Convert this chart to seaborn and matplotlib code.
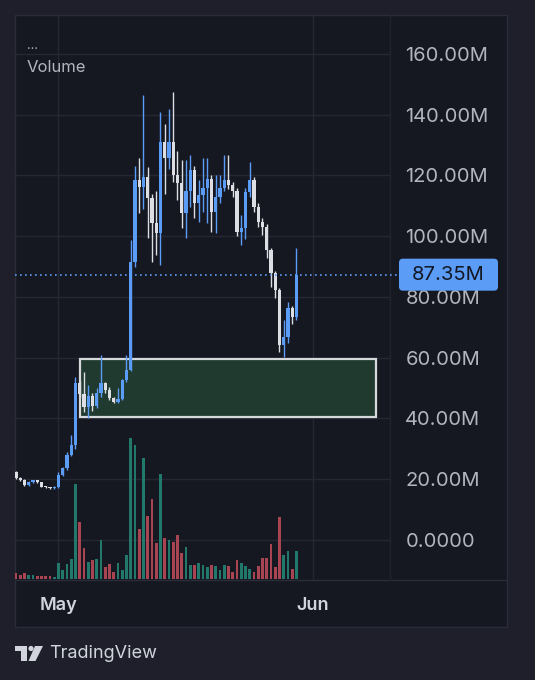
import numpy as np
import pandas as pd
import seaborn as sns
import matplotlib.pyplot as plt
from matplotlib import patches, lines, transforms

W, H = 535, 680
DPI = 100

# Candle data (12h bars), values in millions
opens = [22.4, 20.3, 19.8, 18.0, 19.2, 19.6, 19.0, 17.5, 17.3, 17.1,
         17.5, 21.4, 23.6, 28.0, 31.3, 51.6, 48.0, 43.8, 47.5, 44.0,
         48.5, 51.6, 49.5, 46.7, 45.3, 46.5, 52.6, 56.0, 91.4, 118.4,
         116.2, 119.4, 112.5, 104.3, 101.0, 131.0, 125.6, 131.0, 120.0, 117.4,
         107.6, 115.0, 121.7, 111.0, 113.5, 116.0, 119.0, 108.0, 113.0, 115.8,
         118.4, 117.0, 115.0, 101.3, 102.6, 114.5, 118.4, 109.5, 104.6, 103.0,
         95.4, 87.8, 82.2, 64.1, 66.8, 76.3, 73.4]
highs = [22.8, 20.9, 20.2, 19.5, 19.9, 19.8, 19.2, 17.9, 17.6, 17.7,
         22.5, 24.0, 29.0, 34.5, 53.5, 52.5, 55.3, 51.0, 48.5, 50.0,
         60.9, 52.0, 50.5, 47.2, 50.0, 53.0, 60.9, 98.7, 123.0, 125.6,
         146.4, 122.7, 114.0, 115.0, 140.8, 137.0, 141.8, 147.4, 128.0, 125.0,
         125.0, 126.6, 123.0, 118.4, 125.6, 125.6, 120.0, 120.0, 120.0, 126.6,
         126.6, 118.0, 116.0, 107.0, 116.0, 124.3, 119.5, 111.0, 106.0, 104.0,
         96.0, 88.5, 83.0, 72.4, 78.3, 77.0, 96.0]
lows = [20.0, 19.5, 17.8, 17.9, 18.7, 18.7, 17.3, 17.0, 16.9, 16.9,
        17.2, 21.0, 23.0, 27.5, 30.0, 47.0, 42.2, 40.1, 42.5, 43.5,
        47.0, 48.5, 46.0, 45.0, 45.0, 46.0, 52.0, 55.5, 90.0, 107.6,
        109.0, 99.3, 91.4, 93.8, 90.5, 114.0, 122.0, 118.0, 112.0, 102.6,
        99.3, 109.5, 106.0, 104.6, 108.0, 104.3, 101.3, 101.0, 111.0, 115.0,
        115.5, 113.0, 100.0, 97.0, 99.0, 113.0, 108.0, 103.0, 100.5, 93.0,
        83.2, 79.6, 61.8, 60.2, 65.0, 71.0, 72.5]
closes = [20.3, 19.8, 18.0, 19.2, 19.6, 19.0, 17.5, 17.3, 17.1, 17.5,
          21.4, 23.6, 28.0, 31.3, 51.6, 48.0, 43.8, 47.5, 44.0, 48.5,
          51.6, 49.5, 46.7, 45.3, 46.5, 52.6, 56.0, 91.4, 118.4, 116.2,
          119.4, 112.5, 104.3, 101.0, 131.0, 125.6, 131.0, 120.0, 117.4, 107.6,
          115.0, 121.7, 111.0, 113.5, 116.0, 119.0, 108.0, 113.0, 115.8, 118.4,
          117.0, 115.0, 101.3, 102.6, 114.5, 118.4, 109.5, 104.6, 103.0, 95.4,
          87.8, 82.2, 64.1, 66.8, 76.3, 73.4, 87.35]
volumes = [6, 4, 6, 4, 4, 3, 3, 3, 3, 2,
           16, 9, 15, 20, 95, 57, 31, 17, 19, 20,
           39, 12, 15, 7, 16, 9, 24, 141, 134, 50,
           121, 63, 80, 36, 105, 41, 39, 37, 44, 26,
           32, 14, 14, 16, 14, 12, 14, 13, 9, 14,
           13, 7, 19, 16, 13, 10, 7, 13, 21, 21,
           35, 12, 62, 24, 28, 10, 28]

last_price = 87.35
y_ticks = [0, 20, 40, 60, 80, 100, 120, 140, 160]
y_tick_labels = ["0.0000", "20.00M", "40.00M", "60.00M", "80.00M",
                 "100.00M", "120.00M", "140.00M", "160.00M"]
month_labels = ["May", "Jun"]
month_pos = [9.9, 69.9]
zone_x = [15.06, 84.7]
zone_y = [40.5, 59.5]

# Colors
OUTER_BG = "#1e1f2b"
PANEL_BG = "#161821"
BORDER = "#2a2d39"
GRID = "#252834"
TEXT = "#b2b5be"
UP = "#5b9cf6"
DOWN = "#dcdee3"
VOL_UP = "#22786b"
VOL_DOWN = "#a94452"

sns.set_theme(style="dark")
plt.rcParams["font.family"] = ["Inter", "DejaVu Sans"]

df = pd.DataFrame({
    "idx": np.arange(len(opens)),
    "open": opens, "high": highs, "low": lows, "close": closes,
    "volume": volumes,
})
df["dir"] = np.where(df["close"] >= df["open"], "up", "down")


def fx(px):
    return px / W


def fy(py):
    return 1 - py / H


fig = plt.figure(figsize=(W / DPI, H / DPI), dpi=DPI, facecolor=OUTER_BG)
pix = transforms.IdentityTransform()

# Panel background and border
panel = patches.Rectangle((fx(15), fy(627)), (507 - 15) / W, (627 - 15) / H,
                          transform=fig.transFigure, facecolor=PANEL_BG,
                          edgecolor=BORDER, lw=1, zorder=-2)
fig.add_artist(panel)
fig.add_artist(lines.Line2D([fx(15), fx(507)], [fy(580), fy(580)],
                            transform=fig.transFigure, color=BORDER, lw=1, zorder=-1))
fig.add_artist(lines.Line2D([fx(390), fx(390)], [fy(15), fy(580)],
                            transform=fig.transFigure, color="#1f2230", lw=1, zorder=-1))

rect = [fx(15), fy(580), 375 / W, 565 / H]
xlim = (-0.235, 88.0)

# -------------------------------------------------------------------------
# Price pane
ax = fig.add_axes(rect)
ax.patch.set_alpha(0)
ax.set_xlim(*xlim)
ax.set_ylim(-13.17, 172.84)

ax.set_yticks(y_ticks)
ax.set_yticklabels(y_tick_labels)
ax.yaxis.tick_right()
ax.tick_params(axis="y", length=0, pad=11, labelsize=14.5, labelcolor=TEXT)
ax.set_xticks(month_pos)
ax.set_xticklabels(month_labels, fontweight="semibold")
ax.tick_params(axis="x", length=0, pad=12, labelsize=13, labelcolor="#d1d4dc")
ax.grid(True, color=GRID, lw=1)
for spine in ax.spines.values():
    spine.set_visible(False)

# Zone rectangle
zone = patches.Rectangle((zone_x[0], zone_y[0]), zone_x[1] - zone_x[0],
                         zone_y[1] - zone_y[0], facecolor="#213a2f",
                         edgecolor="#d6d8dc", lw=1.6, zorder=2)
ax.add_patch(zone)

# Candles
cols = [UP if d == "up" else DOWN for d in df["dir"]]
ax.vlines(df["idx"], df["low"], df["high"], colors=cols, lw=1, zorder=3)
bottoms = np.minimum(df["open"], df["close"])
heights = np.maximum(np.abs(df["close"] - df["open"]), 0.4)
ax.bar(df["idx"], heights, bottom=bottoms, width=0.75, color=cols,
       linewidth=0, zorder=4)

# Last price line
ax.plot([0, 1.025], [last_price, last_price], transform=ax.get_yaxis_transform(),
        color=UP, lw=1.2, ls=(0, (1, 2)), clip_on=False, zorder=5)

# -------------------------------------------------------------------------
# Volume pane (overlay, drawn above the grid)
ax_v = fig.add_axes(rect, zorder=1)
sns.barplot(data=df, x="idx", y="volume", hue="dir",
            palette={"up": VOL_UP, "down": VOL_DOWN},
            native_scale=True, width=0.7, dodge=False, legend=False,
            errorbar=None, saturation=1, linewidth=0, edgecolor="none", ax=ax_v)
ax_v.set_xlim(*xlim)
ax_v.set_ylim(-1, 564)
ax_v.set_axis_off()

# Last price label
label_y = 540 - last_price * 3.0375
box = patches.FancyBboxPatch((399, H - label_y - 16), 99, 32,
                             boxstyle="round,pad=0,rounding_size=4",
                             transform=pix, facecolor=UP, edgecolor="none", zorder=6)
fig.add_artist(box)
fig.text(448.5, H - label_y, f"{last_price:.2f}M", transform=pix, ha="center",
         va="center", fontsize=14.5, color="#131722", zorder=7)

# Legend text
fig.text(fx(27), fy(46), "...", fontsize=9, color=TEXT, va="center")
fig.text(fx(27), fy(67), "Volume", fontsize=12, color=TEXT, va="center")

# TradingView footer logo
logo_color = "#d1d4dc"
fig.add_artist(patches.Polygon(
    [(15, H - 646), (27, H - 646), (27, H - 661), (21, H - 661),
     (21, H - 651), (15, H - 651)], closed=True, transform=pix,
    facecolor=logo_color, edgecolor="none"))
fig.add_artist(patches.Circle((31, H - 648.5), 2.6, transform=pix,
                              facecolor=logo_color, edgecolor="none"))
fig.add_artist(patches.Polygon(
    [(35, H - 646), (43, H - 646), (35.5, H - 661), (28.5, H - 661)],
    closed=True, transform=pix, facecolor=logo_color, edgecolor="none"))
fig.text(fx(49), fy(653), "TradingView", fontsize=13, color=logo_color, va="center")

plt.savefig("out.png", dpi=DPI, facecolor=OUTER_BG)
